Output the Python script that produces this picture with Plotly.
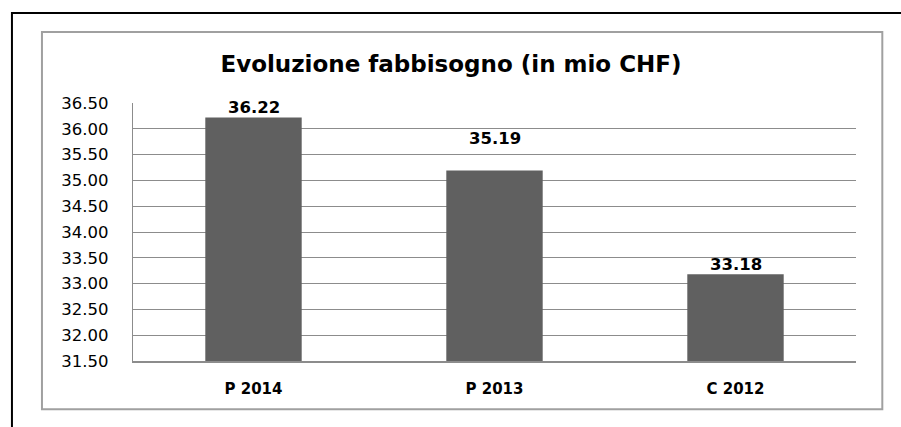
import plotly.graph_objects as go

categories = ["P 2014", "P 2013", "C 2012"]
values = [36.22, 35.19, 33.18]
value_labels = ["36.22", "35.19", "33.18"]
label_shift = [10, 32, 10]  # pixel offset of each label above its bar

W, H = 901, 427
L, R, T, B = 133, 45.3, 103, 66.3
pw, ph = W - L - R, H - T - B

def px(x):
    return (x - L) / pw

def py(y):
    return (H - B - y) / ph

fig = go.Figure(go.Bar(
    x=categories, y=values, marker=dict(color="#606060", line=dict(width=0)),
    width=0.4, hoverinfo="skip"))

for c, v, t, s in zip(categories, values, value_labels, label_shift):
    fig.add_annotation(x=c, y=v, text="<b>%s</b>" % t, showarrow=False,
                       yshift=s, font=dict(family="DejaVu Sans", size=16.5, color="#000"))

shapes = [
    dict(type="line", xref="paper", yref="paper", x0=px(12), x1=px(905), y0=py(13), y1=py(13),
         line=dict(color="#000", width=2)),
    dict(type="line", xref="paper", yref="paper", x0=px(12), x1=px(12), y0=py(12), y1=py(430),
         line=dict(color="#000", width=2)),
    dict(type="rect", xref="paper", yref="paper", x0=px(42), x1=px(882), y0=py(32), y1=py(409),
         line=dict(color="#a0a0a0", width=2)),
]

fig.update_layout(
    width=W, height=H, margin=dict(l=L, r=R, t=T, b=B),
    paper_bgcolor="white", plot_bgcolor="white", showlegend=False,
    title=dict(text="<b>Evoluzione fabbisogno (in mio CHF)</b>", x=451 / W, xanchor="center",
               y=1 - 64 / H, yanchor="middle",
               font=dict(family="DejaVu Sans", size=23, color="#000")),
    shapes=shapes,
    xaxis=dict(showgrid=False, showline=True, linecolor="#8c8c8c", linewidth=1.5,
               ticks="", ticklabelstandoff=13,
               tickfont=dict(family="DejaVu Sans", size=15, color="#000", weight="bold")),
    yaxis=dict(range=[31.5, 36.5], dtick=0.5, tick0=31.5, tickformat=".2f",
               showgrid=True, gridcolor="#8c8c8c", gridwidth=1.3,
               showline=True, linecolor="#8c8c8c", linewidth=1.3, zeroline=False,
               ticks="", ticklabelstandoff=20,
               tickfont=dict(family="DejaVu Sans", size=16.5, color="#000")),
)

fig.write_html("out.html", config={"displayModeBar": False},
               post_script="document.body.style.margin='0';document.body.style.overflow='hidden';")
